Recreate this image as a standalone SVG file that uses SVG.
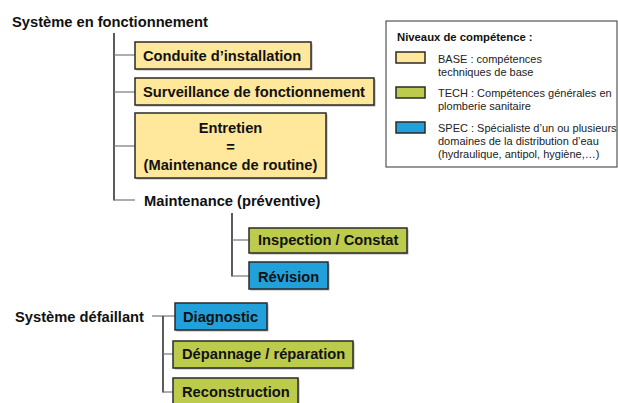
<svg xmlns="http://www.w3.org/2000/svg" width="618" height="403" viewBox="0 0 618 403">
<style>
  text { font-family: "Liberation Sans", Arial, sans-serif; fill: #111; }
  .h { font-weight: bold; font-size: 14.7px; }
  .t { font-weight: bold; font-size: 14.7px; }
  .lt { font-weight: bold; font-size: 11.3px; }
  .l { font-size: 11px; fill: #222; }
  .box { stroke: #2a2a2a; stroke-width: 1.5; }
  .sh { fill: #b0b0b0; }
  .base { fill: #FFE79B; }
  .tech { fill: #BCCB4C; }
  .spec { fill: #22A0DA; }
  .vl { stroke: #333; stroke-width: 1.6; fill: none; }
  .hl { stroke: #777; stroke-width: 1.2; fill: none; }
</style>
<rect width="618" height="403" fill="#fff"/>

<g id="connectors">
  <line class="vl" x1="114" y1="33" x2="114" y2="200.5"/>
  <line class="hl" x1="114" y1="55" x2="135" y2="55"/>
  <line class="hl" x1="114" y1="92" x2="135" y2="92"/>
  <line class="hl" x1="114" y1="146" x2="135" y2="146"/>
  <line class="hl" x1="114" y1="200" x2="135" y2="200"/>
  <line class="vl" x1="232" y1="213" x2="232" y2="276.5"/>
  <line class="hl" x1="232" y1="240" x2="249" y2="240"/>
  <line class="hl" x1="232" y1="276" x2="249" y2="276"/>
  <line class="hl" x1="152" y1="316" x2="175" y2="316"/>
  <line class="vl" x1="163" y1="316" x2="163" y2="392.5"/>
  <line class="hl" x1="163" y1="354" x2="173" y2="354"/>
  <line class="hl" x1="163" y1="392" x2="173" y2="392"/>
</g>

<g id="systeme-fonctionnement">
  <text class="h" x="12" y="27">Système en fonctionnement</text>
</g>

<g id="conduite">
  <rect class="sh" x="136.5" y="43.5" width="176" height="27"/>
  <rect class="box base" x="135" y="42" width="176" height="27"/>
  <text class="t" x="143" y="61">Conduite d’installation</text>
</g>

<g id="surveillance">
  <rect class="sh" x="136.5" y="79.5" width="239" height="27"/>
  <rect class="box base" x="135" y="78" width="239" height="27"/>
  <text class="t" x="143" y="97">Surveillance de fonctionnement</text>
</g>

<g id="entretien">
  <rect class="sh" x="136.5" y="114.5" width="191" height="65"/>
  <rect class="box base" x="135" y="113" width="191" height="65"/>
  <text class="t" x="230.5" y="133" text-anchor="middle">Entretien</text>
  <text class="t" x="230.5" y="152" text-anchor="middle">=</text>
  <text class="t" x="230.5" y="170" text-anchor="middle">(Maintenance de routine)</text>
</g>

<g id="maintenance">
  <text class="t" x="144" y="206">Maintenance (préventive)</text>
</g>

<g id="inspection">
  <rect class="sh" x="250.5" y="229.5" width="158" height="25"/>
  <rect class="box tech" x="249" y="228" width="158" height="25"/>
  <text class="t" x="258" y="245">Inspection / Constat</text>
</g>

<g id="revision">
  <rect class="sh" x="250.5" y="263.5" width="79" height="27"/>
  <rect class="box spec" x="249" y="262" width="79" height="27"/>
  <text class="t" x="258" y="282">Révision</text>
</g>

<g id="systeme-defaillant">
  <text class="h" x="15" y="322">Système défaillant</text>
</g>

<g id="diagnostic">
  <rect class="sh" x="176.5" y="304.5" width="92" height="27"/>
  <rect class="box spec" x="175" y="303" width="92" height="27"/>
  <text class="t" x="183" y="322">Diagnostic</text>
</g>

<g id="depannage">
  <rect class="sh" x="174.5" y="342.5" width="180" height="27"/>
  <rect class="box tech" x="173" y="341" width="180" height="27"/>
  <text class="t" x="182" y="359">Dépannage / réparation</text>
</g>

<g id="reconstruction">
  <rect class="sh" x="174.5" y="379.5" width="125" height="30"/>
  <rect class="box tech" x="173" y="378" width="125" height="30"/>
  <text class="t" x="182" y="397">Reconstruction</text>
</g>

<g id="legend">
  <rect x="386" y="21" width="231" height="146" fill="#fff" stroke="#333" stroke-width="1"/>
  <text class="lt" x="397" y="41">Niveaux de compétence :</text>
  <rect class="box base" x="396" y="52" width="29" height="11" stroke-width="1.2"/>
  <text class="l" x="438" y="63">BASE : compétences</text>
  <text class="l" x="438" y="76">techniques de base</text>
  <rect class="box tech" x="396" y="87" width="29" height="11" stroke-width="1.2"/>
  <text class="l" x="438" y="97">TECH : Compétences générales en</text>
  <text class="l" x="438" y="110">plomberie sanitaire</text>
  <rect class="box spec" x="396" y="122" width="29" height="11" stroke-width="1.2"/>
  <text class="l" x="438" y="132">SPEC : Spécialiste d’un ou plusieurs</text>
  <text class="l" x="438" y="145">domaines de la distribution d’eau</text>
  <text class="l" x="438" y="158">(hydraulique, antipol, hygiène,…)</text>
</g>
</svg>
